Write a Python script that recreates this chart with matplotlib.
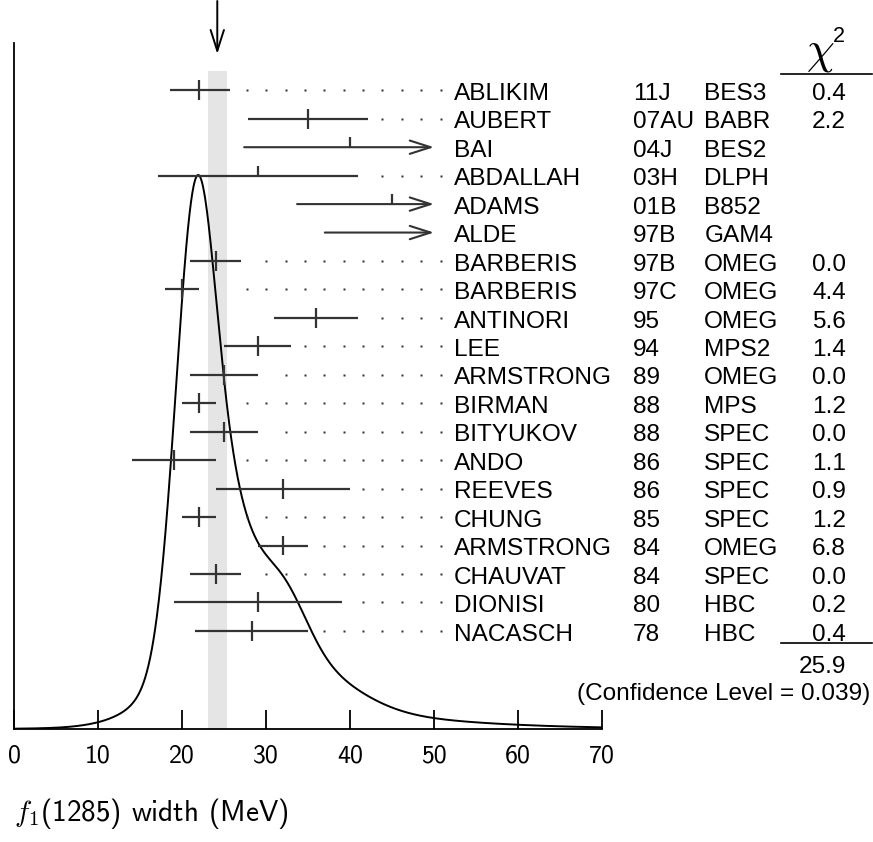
import numpy as np
import matplotlib
matplotlib.use("Agg")
import matplotlib.pyplot as plt

plt.rcParams['mathtext.fontset'] = 'cm'

# ---------------- data ----------------
names = ['ABLIKIM', 'AUBERT', 'BAI', 'ABDALLAH', 'ADAMS', 'ALDE', 'BARBERIS', 'BARBERIS',
         'ANTINORI', 'LEE', 'ARMSTRONG', 'BIRMAN', 'BITYUKOV', 'ANDO', 'REEVES', 'CHUNG',
         'ARMSTRONG', 'CHAUVAT', 'DIONISI', 'NACASCH']
refs = ['11J', '07AU', '04J', '03H', '01B', '97B', '97B', '97C', '95', '94', '89', '88', '88',
        '86', '86', '85', '84', '84', '80', '78']
exps = ['BES3', 'BABR', 'BES2', 'DLPH', 'B852', 'GAM4', 'OMEG', 'OMEG', 'OMEG', 'MPS2', 'OMEG',
        'MPS', 'SPEC', 'SPEC', 'SPEC', 'SPEC', 'OMEG', 'SPEC', 'HBC', 'HBC']
values = [22.0, 35.0, 40.0, 29.0, 45.0, 55.0, 24.0, 20.0, 36.0, 29.0, 25.0, 22.0, 25.0, 19.0,
          32.0, 22.0, 32.0, 24.0, 29.0, 28.3]
err_lo = [3.4, 7.1, 12.6, 11.9, 11.3, 18.0, 3.0, 2.0, 5.0, 4.0, 4.0, 2.0, 4.0, 5.0, 8.0, 2.0,
          3.0, 3.0, 10.0, 6.7]
err_hi = [3.7, 7.2, 12.6, 12.0, 11.3, 18.0, 3.0, 2.0, 5.0, 4.0, 4.0, 2.0, 4.0, 5.0, 8.0, 2.0,
          3.0, 3.0, 10.0, 6.7]
chi2 = [0.4, 2.2, None, None, None, None, 0.0, 4.4, 5.6, 1.4, 0.0, 1.2, 0.0, 1.1, 0.9, 1.2,
        6.8, 0.0, 0.2, 0.4]
chi2_total = 25.9
conf_level = 0.039
fit_value = 24.2
fit_error = 1.1
xticks = [0, 10, 20, 30, 40, 50, 60, 70]
xlabel_text = r'$f_{\mathsf{1}}$(1285) width (MeV)'

# ---------------- layout ----------------
W, H = 873, 842
fig = plt.figure(figsize=(W / 100, H / 100), dpi=100)
x0_px, x70_px = 14, 602
base_px, top_px = 729, 43
rect = [x0_px / W, (H - base_px) / H, (x70_px - x0_px) / W, (base_px - top_px) / H]
px_per_unit = (x70_px - x0_px) / 70.0

ax = fig.add_axes(rect)
ax.set_xlim(0, 70)
peak_px = 175
ax.set_ylim(0, (base_px - top_px) / (base_px - peak_px))
for s in ['top', 'right']:
    ax.spines[s].set_visible(False)
for s in ['left', 'bottom']:
    ax.spines[s].set_linewidth(1.3)
    ax.spines[s].set_color('black')
ax.set_yticks([])
ax.set_xticks(xticks)
ax.set_xticklabels([str(t) for t in xticks], fontfamily='cmss10', fontsize=18.6)
ax.tick_params(axis='x', direction='in', length=13.7, width=1.3, pad=11.5, color='black')
ax.patch.set_alpha(0)

# row axes
row0_px, row_step = 90.3, 28.45
ax2 = fig.add_axes(rect, sharex=ax)
ax2.set_ylim((base_px - row0_px) / row_step, (top_px - row0_px) / row_step)
ax2.axis('off')

def px_to_row(py):
    return (py - row0_px) / row_step

def px_to_x(px):
    return (px - x0_px) / px_per_unit

# band
band_top_frac = (base_px - 71) / (base_px - top_px)
ax.axvspan(fit_value - fit_error, fit_value + fit_error, ymin=0, ymax=band_top_frac,
           color='#e5e5e5', lw=0, zorder=0)

# ideogram curve: sum of Gaussians, area proportional to 1/sigma (all measurements)
xs = np.linspace(0, 70, 1400)
ys = np.zeros_like(xs)
for v, lo, hi in zip(values, err_lo, err_hi):
    s = 0.5 * (lo + hi)
    ys += (1.0 / s ** 2) * np.exp(-0.5 * ((xs - v) / s) ** 2)
ys /= ys.max()
ax.plot(xs, ys, color='black', lw=1.4, zorder=3)

# measurements
bar_col = '#333333'
x_limit = 50.0
tick_half = 10 / row_step
arrow_style = '->, head_length=15, head_width=4.8'
dot_grid_right = px_to_x(440.7)
dot_step = 19.4 / px_per_unit
dot_grid = dot_grid_right - dot_step * np.arange(0, 15)
for i, (v, lo, hi, c) in enumerate(zip(values, err_lo, err_hi, chi2)):
    left, right = v - lo, v + hi
    if right > x_limit:
        ax2.annotate('', xy=(x_limit, i), xytext=(left, i),
                     arrowprops=dict(arrowstyle=arrow_style, color=bar_col, lw=1.5,
                                     shrinkA=0, shrinkB=0, mutation_scale=1),
                     annotation_clip=False)
    else:
        ax2.hlines(i, left, right, color=bar_col, lw=1.6, zorder=4)
        dots = dot_grid[(dot_grid > right + 1.35) & (dot_grid > fit_value + fit_error + 0.25)]
        ax2.plot(dots, np.full(len(dots), i), ls='none', marker='s', ms=1.5,
                 color=bar_col, mec='none', clip_on=False)
    if v <= x_limit:
        if c is None:
            ax2.vlines(v, i - tick_half, i, color=bar_col, lw=1.6, zorder=4)
        else:
            ax2.vlines(v, i - tick_half, i + tick_half, color=bar_col, lw=1.6, zorder=4)

# text columns
tfont = dict(fontfamily='Liberation Sans', fontsize=17.6, color='black', clip_on=False)
base_off = 9.7 / row_step
x_name, x_ref, x_exp, x_chi = px_to_x(454), px_to_x(633), px_to_x(704.3), px_to_x(846)
for i in range(len(names)):
    ax2.text(x_name, i + base_off, names[i], ha='left', va='baseline', **tfont)
    ax2.text(x_ref, i + base_off, refs[i], ha='left', va='baseline', **tfont)
    ax2.text(x_exp, i + base_off, exps[i], ha='left', va='baseline', **tfont)
    if chi2[i] is not None:
        ax2.text(x_chi, i + base_off, f'{chi2[i]:.1f}', ha='right', va='baseline', **tfont)

# chi2 header and summary
line_x = [px_to_x(781), px_to_x(872)]
ax2.plot(line_x, [px_to_row(74)] * 2, color='black', lw=1.2, clip_on=False)
ax2.plot(line_x, [px_to_row(642.7)] * 2, color='black', lw=1.2, clip_on=False)
ax2.text(px_to_x(820), px_to_row(62), r'$\chi$', ha='center', va='baseline',
         fontsize=32, clip_on=False)
ax2.text(px_to_x(833), px_to_row(42), '2', ha='left', va='baseline',
         fontfamily='Liberation Sans', fontsize=15.5, clip_on=False)
ax2.text(x_chi, px_to_row(672.7), f'{chi2_total:.1f}', ha='right', va='baseline', **tfont)
ax2.text(px_to_x(870), px_to_row(700), f'(Confidence Level = {conf_level:.3f})',
         ha='right', va='baseline', **tfont)

# fit arrow
ax2.annotate('', xy=(fit_value, px_to_row(54)), xytext=(fit_value, px_to_row(1)),
             arrowprops=dict(arrowstyle=arrow_style, color='black', lw=1.4,
                             shrinkA=0, shrinkB=0, mutation_scale=1),
             annotation_clip=False)

# x label
fig.text(14 / W, 1 - 821 / H, xlabel_text, fontfamily='cmss10', fontsize=21,
         ha='left', va='baseline')

fig.savefig('out.png', dpi=100)
